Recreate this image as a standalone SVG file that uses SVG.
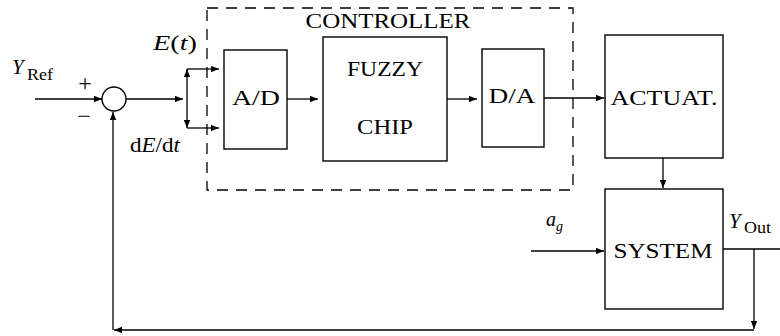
<svg xmlns="http://www.w3.org/2000/svg" width="780" height="336" viewBox="0 0 780 336">
<style>
.box{fill:none;stroke:#000;stroke-width:1.4}
.ln{fill:none;stroke:#000;stroke-width:1.3}
text{fill:#000}
.c{text-anchor:middle}
.i{font-style:italic}
</style>
<defs>
<marker id="ah" viewBox="0 0 10 8" refX="10" refY="4" markerWidth="8" markerHeight="6.4" markerUnits="userSpaceOnUse" orient="auto">
<path d="M0,0 L10,4 L0,8 Z" fill="#000"/>
</marker>
</defs>
<rect width="780" height="336" fill="#fff"/>
<g font-family="Liberation Serif, DejaVu Serif, serif">
<g id="controller">
<rect x="207" y="8" width="366" height="182" fill="none" stroke="#000" stroke-width="1.3" stroke-dasharray="11,8"/>
<text class="c" x="388" y="28" font-size="21" textLength="165" lengthAdjust="spacingAndGlyphs">CONTROLLER</text>
</g>
<g id="sum">
<circle cx="114" cy="99" r="12" class="box"/>
<text class="c" x="85" y="91" font-size="24">+</text>
<text class="c" x="84" y="124" font-size="24">−</text>
</g>
<g id="yref">
<text class="i" x="12" y="74" font-size="21">Y</text>
<text x="27" y="80" font-size="16" textLength="26" lengthAdjust="spacingAndGlyphs">Ref</text>
</g>
<g id="ad">
<rect x="224" y="50" width="63" height="99" class="box"/>
<text class="c" x="256" y="105" font-size="21" textLength="48" lengthAdjust="spacingAndGlyphs">A/D</text>
</g>
<g id="fuzzy">
<rect x="323" y="37" width="124" height="124" class="box"/>
<text class="c" x="385" y="76" font-size="21" textLength="76" lengthAdjust="spacingAndGlyphs">FUZZY</text>
<text class="c" x="385" y="134" font-size="21" textLength="56" lengthAdjust="spacingAndGlyphs">CHIP</text>
</g>
<g id="da">
<rect x="482" y="49" width="62" height="98" class="box"/>
<text class="c" x="512" y="103" font-size="21" textLength="47" lengthAdjust="spacingAndGlyphs">D/A</text>
</g>
<g id="actuat">
<rect x="605" y="35" width="118" height="123" class="box"/>
<text class="c" x="664" y="105" font-size="21" textLength="107" lengthAdjust="spacingAndGlyphs">ACTUAT.</text>
</g>
<g id="system">
<rect x="605" y="189" width="118" height="120" class="box"/>
<text class="c" x="663" y="258" font-size="21" textLength="99" lengthAdjust="spacingAndGlyphs">SYSTEM</text>
</g>
<g id="labels">
<text x="153" y="50" font-size="20" textLength="44" lengthAdjust="spacingAndGlyphs"><tspan font-style="italic">E</tspan>(<tspan font-style="italic">t</tspan>)</text>
<text x="130" y="152" font-size="20" textLength="50" lengthAdjust="spacingAndGlyphs">d<tspan font-style="italic">E</tspan>/d<tspan font-style="italic">t</tspan></text>
<text class="i" x="546" y="226" font-size="20">a</text>
<text class="i" x="556" y="231" font-size="14">g</text>
<text class="i" x="729" y="228" font-size="21">Y</text>
<text x="744" y="233" font-size="16" textLength="27" lengthAdjust="spacingAndGlyphs">Out</text>
</g>
</g>
<g id="connectors">
<line x1="35" y1="99" x2="102" y2="99" class="ln" marker-end="url(#ah)"/>
<line x1="126" y1="99" x2="183" y2="99" class="ln" marker-end="url(#ah)"/>
<line x1="187" y1="99" x2="187" y2="69" class="ln" marker-end="url(#ah)"/>
<line x1="187" y1="99" x2="187" y2="128" class="ln" marker-end="url(#ah)"/>
<line x1="187" y1="69" x2="219" y2="69" class="ln" marker-end="url(#ah)"/>
<line x1="187" y1="128" x2="219" y2="128" class="ln" marker-end="url(#ah)"/>
<line x1="287" y1="99" x2="318" y2="99" class="ln" marker-end="url(#ah)"/>
<line x1="447" y1="99" x2="477" y2="99" class="ln" marker-end="url(#ah)"/>
<line x1="544" y1="98" x2="604" y2="98" class="ln" marker-end="url(#ah)"/>
<line x1="663" y1="158" x2="663" y2="188" class="ln" marker-end="url(#ah)"/>
<line x1="531" y1="251" x2="604" y2="251" class="ln" marker-end="url(#ah)"/>
<line x1="723" y1="249" x2="780" y2="249" class="ln"/>
<line x1="754" y1="249" x2="754" y2="329" class="ln" marker-end="url(#ah)"/>
<line x1="754" y1="330" x2="114" y2="330" class="ln" marker-end="url(#ah)"/>
<line x1="113" y1="330" x2="113" y2="112" class="ln" marker-end="url(#ah)"/>
</g>
</svg>
